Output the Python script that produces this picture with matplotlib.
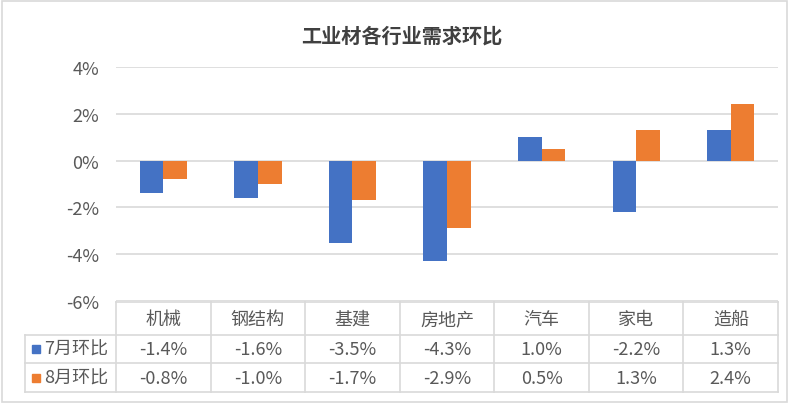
import matplotlib
matplotlib.use("Agg")
import matplotlib.pyplot as plt
import matplotlib.transforms as mtransforms
from matplotlib.patches import Rectangle
import numpy as np

plt.rcParams['font.family'] = ['Noto Sans CJK SC', 'DejaVu Sans']

categories = ["机械", "钢结构", "基建", "房地产", "汽车", "家电", "造船"]
series_names = ["7月环比", "8月环比"]
jul = [-1.4, -1.6, -3.5, -4.3, 1.0, -2.2, 1.3]
aug = [-0.8, -1.0, -1.7, -2.9, 0.5, 1.3, 2.4]
yticks = [4, 2, 0, -2, -4, -6]
title = "工业材各行业需求环比"

colors = ["#4472C4", "#ED7D31"]
text_color = "#595959"
line_color = "#D9D9D9"
fs = 13

W, H = 788, 406
fig = plt.figure(figsize=(W / 100, H / 100), dpi=100)


def px_box(x0, y0, x1, y1):
    # pixel box (top-left origin) -> figure fraction [l, b, w, h]
    return [x0 / W, 1 - y1 / H, (x1 - x0) / W, (y1 - y0) / H]


ax = fig.add_axes(px_box(116, 68, 778, 302))
x = np.arange(len(categories))
bw = 0.25
for k, vals in enumerate([jul, aug]):
    ax.bar(x + (k - 0.5) * bw, vals, width=bw, color=colors[k], zorder=3)

ax.set_xlim(-0.5, len(categories) - 0.5)
ax.set_ylim(-6, 4)
ax.set_yticks(yticks)
ax.set_yticklabels([f"{v}%" for v in yticks], color=text_color, fontsize=fs)
ax.tick_params(axis='y', length=0, pad=12)
ax.set_xticks([])
ax.grid(axis='y', color=line_color, linewidth=1.2, zorder=0)
for s in ax.spines.values():
    s.set_visible(False)

fig.text(402 / W, 1 - 36 / H, title, ha='center', va='center',
         fontsize=14.5, fontweight='bold', color="#404040")

# data table under the plot
trans = mtransforms.blended_transform_factory(ax.transData, ax.transAxes)
ah = 302 - 68


def ay(py):
    return (302 - py) / ah


row_lines = [336, 364, 393]
x_left = -0.5 - (116 - 25) / (662 / len(categories))
x_right = len(categories) - 0.5
kw = dict(color=line_color, linewidth=1.2, transform=trans, clip_on=False)
ax.plot([-0.5, x_right], [ay(303), ay(303)], **kw)
for py in row_lines:
    ax.plot([x_left, x_right], [ay(py), ay(py)], **kw)
for i in range(len(categories) + 1):
    ax.plot([i - 0.5, i - 0.5], [ay(303), ay(393)], **kw)
ax.plot([x_left, x_left], [ay(336), ay(393)], **kw)

for i, c in enumerate(categories):
    ax.text(i, ay(320), c, ha='center', va='center', fontsize=fs,
            color=text_color, transform=trans)

row_mid = [350, 379]
for k, vals in enumerate([jul, aug]):
    for i, v in enumerate(vals):
        ax.text(i, ay(row_mid[k]), f"{v:.1f}%", ha='center', va='center',
                fontsize=fs, color=text_color, transform=trans)
    fig.patches.append(Rectangle((32 / W, 1 - (row_mid[k] + 4) / H), 8 / W, 8 / H,
                                 transform=fig.transFigure, color=colors[k]))
    fig.text(44 / W, 1 - row_mid[k] / H, series_names[k], ha='left', va='center',
             fontsize=fs, color=text_color)

fig.patches.append(Rectangle((1.5 / W, 1 - 403 / H), 785 / W, 401.5 / H,
                             transform=fig.transFigure, fill=False,
                             edgecolor=line_color, linewidth=1.2))

fig.savefig("out.png", dpi=100)
